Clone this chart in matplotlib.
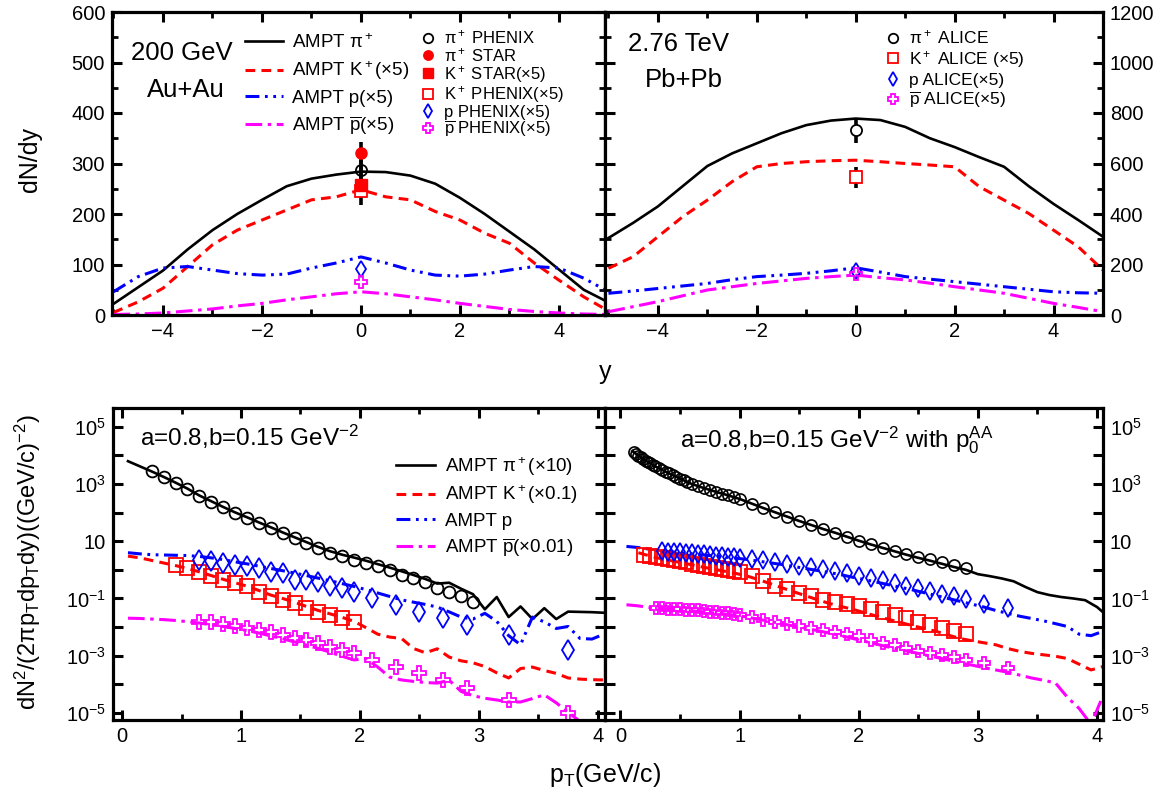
import numpy as np
import matplotlib
matplotlib.use("Agg")
import matplotlib.pyplot as plt
from matplotlib.ticker import MultipleLocator, FixedLocator, FixedFormatter, NullLocator

plt.rcParams["font.family"] = ["Liberation Sans", "DejaVu Sans"]
plt.rcParams["mathtext.fontset"] = "custom"
plt.rcParams["mathtext.rm"] = "Liberation Sans"
plt.rcParams["mathtext.it"] = "Liberation Sans:italic"
plt.rcParams["mathtext.bf"] = "Liberation Sans:bold"
plt.rcParams["lines.scale_dashes"] = False

# ---------------- top row: dN/dy vs y ----------------
y_grid = [-5.0, -4.5, -4.0, -3.5, -3.0, -2.5, -2.0, -1.5, -1.0, -0.5, 0.0,
          0.5, 1.0, 1.5, 2.0, 2.5, 3.0, 3.5, 4.0, 4.5, 5.0]

# Au+Au 200 GeV, AMPT
au_pi = [22, 55, 88, 130, 168, 200, 228, 255, 270, 278, 284, 283, 276, 260, 232, 200, 165, 130, 90, 50, 25]
au_k = [5, 26, 53, 96, 139, 168, 188, 208, 228, 234, 248, 234, 228, 205, 188, 162, 142, 103, 69, 36, 8]
au_p = [46, 76, 93, 96, 89, 82, 79, 81, 93, 103, 115, 103, 89, 79, 77, 81, 89, 96, 93, 73, 46]
au_pbar = [1, 2, 4, 8, 12, 18, 23, 30, 36, 42, 46, 42, 36, 30, 23, 17, 11, 7, 4, 2, 1]

# Au+Au data at y=0 (value, error)
pi_phenix = (287, 20)
pi_star = (321, 22)
k_star = (257, 40)
k_phenix = 245
p_phenix = 92
pbar_phenix = 66

# Pb+Pb 2.76 TeV, AMPT (right axis scale)
pb_pi = [305, 365, 430, 510, 590, 640, 680, 720, 752, 770, 778, 772, 745, 700, 665, 625, 587, 510, 440, 376, 310]
pb_k = [185, 231, 310, 389, 455, 528, 587, 600, 607, 611, 613, 607, 600, 594, 587, 508, 455, 402, 336, 270, 178]
pb_p = [86, 95, 105, 115, 125, 140, 152, 158, 165, 175, 187, 170, 152, 142, 132, 122, 112, 102, 92, 88, 86]
pb_pbar = [13, 33, 53, 76, 99, 112, 125, 135, 145, 152, 158, 148, 139, 126, 112, 99, 86, 66, 46, 30, 13]

pi_alice = (732, 50)
k_alice = (545, 43)
p_alice = 175
pbar_alice = 162

# ---------------- bottom row: pT spectra (log10 values) ----------------
pt_grid = [0.05, 0.15, 0.25, 0.35, 0.45, 0.55, 0.65, 0.75, 0.85, 0.95, 1.05,
           1.15, 1.25, 1.35, 1.45, 1.55, 1.65, 1.75, 1.85, 1.95, 2.05, 2.15,
           2.25, 2.35, 2.45, 2.55, 2.65, 2.75, 2.85, 2.95, 3.05, 3.15, 3.25,
           3.35, 3.45, 3.55, 3.65, 3.75, 3.85, 3.95, 4.05]

# Au+Au AMPT
spec_pi_au = [3.80, 3.62, 3.44, 3.25, 3.05, 2.84, 2.60, 2.40, 2.20, 2.01, 1.84, 1.66, 1.49, 1.31,
              1.14, 0.97, 0.80, 0.65, 0.53, 0.43, 0.32, 0.20, 0.08, -0.05, -0.18, -0.32, -0.48,
              -0.45, -0.66, -0.85, -1.38, -0.95, -1.65, -1.28, -1.72, -1.34, -1.72, -1.46, -1.47,
              -1.48, -1.50]
spec_k_au = [0.48, 0.42, 0.33, 0.24, 0.15, 0.05, -0.07, -0.20, -0.33, -0.45, -0.57, -0.72, -0.88,
             -1.00, -1.13, -1.28, -1.42, -1.54, -1.66, -1.80, -2.02, -2.25, -2.35, -2.40, -2.75,
             -2.90, -2.76, -3.05, -3.18, -3.25, -3.38, -3.60, -3.78, -3.45, -3.40, -3.52, -3.62,
             -3.78, -3.82, -3.84, -3.85]
spec_p_au = [0.60, 0.56, 0.53, 0.52, 0.51, 0.50, 0.47, 0.42, 0.36, 0.28, 0.21, 0.13, 0.05, -0.03,
             -0.11, -0.20, -0.29, -0.38, -0.48, -0.58, -0.69, -0.81, -0.93, -1.05, -1.13, -1.21,
             -1.30, -1.47, -1.65, -1.72, -1.52, -1.80, -2.30, -2.62, -1.65, -1.82, -2.05, -1.98,
             -2.40, -2.42, -2.25]
spec_pbar_au = [-1.69, -1.70, -1.72, -1.74, -1.77, -1.81, -1.86, -1.92, -1.98, -2.05, -2.12, -2.21,
                -2.31, -2.41, -2.52, -2.63, -2.75, -2.88, -3.02, -3.15, -3.10, -3.40, -3.75, -3.85,
                -3.90, -3.94, -3.96, -3.86, -4.25, -4.40, -4.49, -4.55, -4.62, -4.62, -4.50, -4.37,
                -4.65, -4.98, -5.30, -5.60, -5.80]

# Au+Au PHENIX data
pt_pi_phx = [0.25, 0.35, 0.45, 0.55, 0.65, 0.75, 0.85, 0.95, 1.05, 1.15, 1.25, 1.35, 1.45, 1.55,
             1.65, 1.75, 1.85, 1.95, 2.05, 2.15, 2.25, 2.35, 2.45, 2.55, 2.65, 2.75, 2.85, 2.95]
dat_pi_phx = [3.44, 3.24, 3.03, 2.82, 2.59, 2.39, 2.19, 1.98, 1.81, 1.63, 1.46, 1.28, 1.11, 0.93,
              0.76, 0.58, 0.47, 0.35, 0.23, 0.12, 0.00, -0.17, -0.29, -0.44, -0.64, -0.76, -0.93, -1.11]
pt_k_phx = [0.45, 0.55, 0.65, 0.75, 0.85, 0.95, 1.05, 1.15, 1.25, 1.35, 1.45, 1.55, 1.65, 1.75, 1.85, 1.95]
dat_k_phx = [0.17, 0.06, -0.06, -0.23, -0.35, -0.47, -0.58, -0.76, -0.93, -1.05, -1.17, -1.34,
             -1.46, -1.57, -1.69, -1.81]
pt_p_phx = [0.65, 0.75, 0.85, 0.95, 1.05, 1.15, 1.25, 1.35, 1.45, 1.55, 1.65, 1.75, 1.85, 1.95,
            2.1, 2.3, 2.5, 2.7, 2.9, 3.25, 3.75]
dat_p_phx = [0.35, 0.31, 0.23, 0.17, 0.12, 0.06, -0.06, -0.12, -0.35, -0.35, -0.44, -0.58, -0.64,
             -0.79, -0.99, -1.22, -1.46, -1.69, -1.92, -2.27, -2.79]
dat_pbar_phx = [-1.81, -1.84, -1.89, -1.98, -2.04, -2.10, -2.16, -2.27, -2.39, -2.45, -2.56, -2.68,
                -2.80, -2.91, -3.15, -3.38, -3.61, -3.85, -4.14, -4.55, -5.01]

# Pb+Pb AMPT
pt_pi_r = [0.1, 0.2, 0.3, 0.4, 0.5, 0.6, 0.7, 0.8, 0.9, 1.0, 1.1, 1.2, 1.3, 1.4, 1.5, 1.6, 1.7,
           1.8, 1.9, 2.0, 2.1, 2.2, 2.3, 2.4, 2.5, 2.6, 2.7, 2.8, 2.9, 3.0, 3.1, 3.2, 3.3, 3.4,
           3.5, 3.6, 3.7, 3.8, 3.9, 4.0, 4.05]
spec_pi_pb = [4.15, 3.85, 3.60, 3.39, 3.19, 3.00, 2.86, 2.73, 2.61, 2.48, 2.32, 2.16, 2.01, 1.86,
              1.71, 1.57, 1.43, 1.30, 1.16, 1.02, 0.89, 0.77, 0.65, 0.53, 0.42, 0.32, 0.21, 0.10,
              0.00, -0.15, -0.22, -0.30, -0.40, -0.60, -0.78, -0.88, -0.95, -1.00, -1.06, -1.30, -1.48]
spec_k_pb = [0.60, 0.48, 0.38, 0.30, 0.22, 0.13, 0.05, -0.03, -0.11, -0.20, -0.33, -0.47, -0.62,
             -0.76, -0.90, -1.04, -1.17, -1.28, -1.38, -1.50, -1.62, -1.73, -1.84, -1.95, -2.05,
             -2.15, -2.28, -2.40, -2.48, -2.55, -2.62, -2.75, -2.85, -2.92, -2.97, -3.02, -3.10,
             -3.30, -3.50, -3.38]
spec_p_pb = [0.82, 0.78, 0.72, 0.66, 0.62, 0.58, 0.54, 0.50, 0.46, 0.42, 0.37, 0.31, 0.25, 0.19,
             0.12, 0.05, -0.02, -0.09, -0.17, -0.26, -0.34, -0.43, -0.52, -0.61, -0.70, -0.80,
             -0.90, -1.00, -1.10, -1.20, -1.30, -1.42, -1.52, -1.62, -1.70, -1.78, -1.88, -1.98,
             -2.25, -2.30, -2.15]
spec_pbar_pb = [-1.22, -1.26, -1.32, -1.36, -1.39, -1.42, -1.45, -1.49, -1.53, -1.58, -1.64, -1.72,
                -1.80, -1.88, -1.96, -2.04, -2.12, -2.21, -2.30, -2.40, -2.50, -2.60, -2.70, -2.79,
                -2.88, -2.97, -3.06, -3.15, -3.25, -3.33, -3.42, -3.50, -3.58, -3.68, -3.78, -3.86,
                -3.95, -4.45, -4.85, -5.40, -4.40]

# Pb+Pb ALICE data
pt_pi_alice = [0.11, 0.13, 0.15, 0.17, 0.19, 0.21, 0.23, 0.25, 0.27, 0.29, 0.32, 0.35, 0.38, 0.41,
               0.44, 0.47, 0.50, 0.53, 0.56, 0.60, 0.65, 0.70, 0.75, 0.80, 0.85, 0.90, 0.95, 1.00,
               1.1, 1.2, 1.3, 1.4, 1.5, 1.6, 1.7, 1.8, 1.9, 2.0, 2.1, 2.2, 2.3, 2.4, 2.5, 2.6,
               2.7, 2.8, 2.9]
dat_pi_alice = [4.12, 4.05, 3.99, 3.93, 3.87, 3.82, 3.77, 3.72, 3.67, 3.62, 3.56, 3.49, 3.43, 3.37,
                3.31, 3.25, 3.19, 3.13, 3.06, 3.00, 2.93, 2.86, 2.80, 2.73, 2.67, 2.61, 2.55, 2.48,
                2.32, 2.16, 2.01, 1.86, 1.71, 1.57, 1.43, 1.30, 1.16, 1.02, 0.90, 0.78, 0.67, 0.56,
                0.46, 0.37, 0.27, 0.17, 0.07]
pt_k_alice = [0.20, 0.25, 0.30, 0.35, 0.40, 0.45, 0.50, 0.55, 0.60, 0.65, 0.70, 0.75, 0.80, 0.85,
              0.90, 0.95, 1.00, 1.1, 1.2, 1.3, 1.4, 1.5, 1.6, 1.7, 1.8, 1.9, 2.0, 2.1, 2.2, 2.3,
              2.4, 2.5, 2.6, 2.7, 2.8, 2.9]
dat_k_alice = [0.52, 0.48, 0.45, 0.41, 0.37, 0.34, 0.30, 0.26, 0.22, 0.18, 0.14, 0.10, 0.07, 0.03,
               -0.01, -0.04, -0.08, -0.22, -0.38, -0.55, -0.68, -0.82, -0.93, -1.04, -1.14, -1.18,
               -1.27, -1.38, -1.47, -1.58, -1.70, -1.82, -1.93, -2.04, -2.15, -2.25]
pt_p_alice = [0.35, 0.40, 0.45, 0.50, 0.55, 0.60, 0.65, 0.70, 0.75, 0.80, 0.85, 0.90, 0.95, 1.00,
              1.1, 1.2, 1.3, 1.4, 1.5, 1.6, 1.7, 1.8, 1.9, 2.0, 2.1, 2.2, 2.3, 2.4, 2.5, 2.6,
              2.7, 2.8, 2.9, 3.05, 3.25]
dat_p_alice = [0.66, 0.64, 0.63, 0.61, 0.60, 0.58, 0.56, 0.54, 0.52, 0.50, 0.48, 0.46, 0.44, 0.42,
               0.37, 0.33, 0.27, 0.21, 0.15, 0.09, 0.03, -0.04, -0.12, -0.20, -0.28, -0.37, -0.46,
               -0.55, -0.65, -0.74, -0.83, -0.92, -1.01, -1.20, -1.35]
pt_pbar_alice = [0.30, 0.35, 0.40, 0.45, 0.50, 0.55, 0.60, 0.65, 0.70, 0.75, 0.80, 0.85, 0.90, 0.95,
                 1.00, 1.1, 1.2, 1.3, 1.4, 1.5, 1.6, 1.7, 1.8, 1.9, 2.0, 2.1, 2.2, 2.3, 2.4, 2.5,
                 2.6, 2.7, 2.8, 2.9, 3.05, 3.25]
dat_pbar_alice = [-1.34, -1.35, -1.36, -1.37, -1.38, -1.39, -1.41, -1.42, -1.44, -1.46, -1.48, -1.50,
                  -1.52, -1.55, -1.58, -1.65, -1.74, -1.82, -1.89, -1.96, -2.02, -2.09, -2.16, -2.25,
                  -2.33, -2.45, -2.55, -2.64, -2.73, -2.82, -2.90, -2.98, -3.06, -3.14, -3.27, -3.43]

# ---------------- styles ----------------
RED = "#ff0000"
BLUE = "#0000ff"
MAG = "#ff00ff"
ls_k = (0, (7, 4.5))
ls_p = (0, (10, 4, 2, 4, 2, 4))
ls_pbar = (0, (12, 4, 2.5, 4))
LW = 2.2
LW_PI = 1.9

TICK_FS = 14.5
LAB_FS = 18


def style_axis(ax):
    for s in ax.spines.values():
        s.set_linewidth(2.3)
    ax.tick_params(which="both", direction="in", top=True, right=True,
                   labelsize=TICK_FS, pad=5)
    ax.tick_params(which="major", length=7, width=2.2)
    ax.tick_params(which="minor", length=4, width=2.0)


def ten(vals):
    return 10.0 ** np.asarray(vals)


fig = plt.figure(figsize=(11.71, 8.01), dpi=100)
W, H = 1171.0, 801.0
ax1 = fig.add_axes([112 / W, 1 - 315 / H, 493 / W, 303 / H])
ax2 = fig.add_axes([605 / W, 1 - 315 / H, 498 / W, 303 / H])
ax3 = fig.add_axes([113 / W, 1 - 720 / H, 492 / W, 312 / H])
ax4 = fig.add_axes([605 / W, 1 - 720 / H, 498 / W, 312 / H])

# ---- top left: Au+Au ----
l1, = ax1.plot(y_grid, au_pi, color="black", lw=LW_PI, label="AMPT π$^+$")
l2, = ax1.plot(y_grid, au_k, color=RED, lw=LW, ls=ls_k, label="AMPT K$^+$(×5)")
l3, = ax1.plot(y_grid, au_p, color=BLUE, lw=LW, ls=ls_p, label="AMPT p(×5)")
l4, = ax1.plot(y_grid, au_pbar, color=MAG, lw=LW, ls=ls_pbar,
               label="AMPT $\\overline{\\mathrm{p}}$(×5)")

for val, err in (pi_phenix, pi_star, k_star):
    ax1.errorbar([0], [val], yerr=[err], fmt="none", ecolor="black", elinewidth=2.6, capsize=0)
m4, = ax1.plot([0], [k_phenix], ls="none", marker="s", ms=9, mfc="white", mec=RED, mew=1.3,
               label="K$^+$ PHENIX(×5)")
m1, = ax1.plot([0], [pi_phenix[0]], ls="none", marker="o", ms=8, mfc="none", mec="black", mew=1.3,
               label="π$^+$ PHENIX")
m2, = ax1.plot([0], [pi_star[0]], ls="none", marker="o", ms=8, color=RED, label="π$^+$ STAR")
m3, = ax1.plot([0], [k_star[0]], ls="none", marker="s", ms=8.5, color=RED, label="K$^+$ STAR(×5)")
m5, = ax1.plot([0], [p_phenix], ls="none", marker="d", ms=8, mfc="none", mec=BLUE, mew=1.3,
               label="p PHENIX(×5)")
m6, = ax1.plot([0], [pbar_phenix], ls="none", marker="P", ms=9, mfc="none", mec=MAG, mew=1.3,
               label="$\\overline{\\mathrm{p}}$ PHENIX(×5)")

ax1.set_xlim(-5.03, 4.93)
ax1.set_ylim(0, 600)
ax1.xaxis.set_major_locator(MultipleLocator(2))
ax1.xaxis.set_minor_locator(MultipleLocator(1))
ax1.yaxis.set_major_locator(MultipleLocator(100))
ax1.yaxis.set_minor_locator(MultipleLocator(50))
style_axis(ax1)
ax1.tick_params(labelright=False)

leg1 = ax1.legend(handles=[l1, l2, l3, l4], loc="upper left", bbox_to_anchor=(0.27, 0.93),
                  frameon=False, fontsize=13.5, handlelength=2.0, handletextpad=0.5,
                  labelspacing=0.40, borderpad=0, borderaxespad=0)
ax1.add_artist(leg1)
ax1.legend(handles=[m1, m2, m3, m4, m5, m6], loc="upper left", bbox_to_anchor=(0.625, 0.945),
           frameon=False, fontsize=12, handlelength=1.0, handletextpad=0.45,
           labelspacing=-0.03, borderpad=0, borderaxespad=0, markerscale=0.85)
ax1.text(0.142, 0.866, "200 GeV", transform=ax1.transAxes, fontsize=18.5, ha="center", va="center")
ax1.text(0.150, 0.741, "Au+Au", transform=ax1.transAxes, fontsize=18.5, ha="center", va="center")

# ---- top right: Pb+Pb ----
ax2.plot(y_grid, pb_pi, color="black", lw=LW_PI)
ax2.plot(y_grid, pb_k, color=RED, lw=LW, ls=ls_k)
ax2.plot(y_grid, pb_p, color=BLUE, lw=LW, ls=ls_p)
ax2.plot(y_grid, pb_pbar, color=MAG, lw=LW, ls=ls_pbar)
for val, err in (pi_alice, k_alice):
    ax2.errorbar([0], [val], yerr=[err], fmt="none", ecolor="black", elinewidth=2.6, capsize=0)
n1, = ax2.plot([0], [pi_alice[0]], ls="none", marker="o", ms=8, mfc="white", mec="black", mew=1.3,
               label="π$^+$ ALICE")
n2, = ax2.plot([0], [k_alice[0]], ls="none", marker="s", ms=9, mfc="white", mec=RED, mew=1.3,
               label="K$^+$ ALICE (×5)")
n3, = ax2.plot([0], [p_alice], ls="none", marker="d", ms=8, mfc="none", mec=BLUE, mew=1.3,
               label="p ALICE(×5)")
n4, = ax2.plot([0], [pbar_alice], ls="none", marker="P", ms=9, mfc="none", mec=MAG, mew=1.3,
               label="$\\overline{\\mathrm{p}}$ ALICE(×5)")
ax2.set_xlim(-5.07, 5.0)
ax2.set_ylim(0, 1200)
ax2.xaxis.set_major_locator(MultipleLocator(2))
ax2.xaxis.set_minor_locator(MultipleLocator(1))
ax2.yaxis.set_major_locator(MultipleLocator(200))
ax2.yaxis.set_minor_locator(MultipleLocator(100))
style_axis(ax2)
ax2.tick_params(labelleft=False, labelright=True)
ax2.legend(handles=[n1, n2, n3, n4], loc="upper left", bbox_to_anchor=(0.56, 0.945),
           frameon=False, fontsize=12.5, handlelength=1.0, handletextpad=0.45,
           labelspacing=0.14, borderpad=0, borderaxespad=0, markerscale=0.85)
ax2.text(0.046, 0.895, "2.76 TeV", transform=ax2.transAxes, fontsize=18.5, ha="left", va="center")
ax2.text(0.080, 0.777, "Pb+Pb", transform=ax2.transAxes, fontsize=18.5, ha="left", va="center")

# ---- bottom left: Au+Au spectra ----
b1, = ax3.plot(pt_grid, ten(spec_pi_au), color="black", lw=LW_PI, label="AMPT π$^+$(×10)")
b2, = ax3.plot(pt_grid, ten(spec_k_au), color=RED, lw=LW, ls=ls_k, label="AMPT K$^+$(×0.1)")
b3, = ax3.plot(pt_grid, ten(spec_p_au), color=BLUE, lw=LW, ls=ls_p, label="AMPT p")
b4, = ax3.plot(pt_grid, ten(spec_pbar_au), color=MAG, lw=LW, ls=ls_pbar,
               label="AMPT $\\overline{\\mathrm{p}}$(×0.01)")
ax3.plot(pt_pi_phx, ten(dat_pi_phx), ls="none", marker="o", ms=8.5, mfc="none", mec="black", mew=1.3)
ax3.plot(pt_k_phx, ten(dat_k_phx), ls="none", marker="s", ms=9.5, mfc="none", mec=RED, mew=1.3)
ax3.plot(pt_p_phx, ten(dat_p_phx), ls="none", marker="d", ms=10, mfc="none", mec=BLUE, mew=1.3)
ax3.plot(pt_p_phx, ten(dat_pbar_phx), ls="none", marker="P", ms=9.5, mfc="none", mec=MAG, mew=1.3)

# ---- bottom right: Pb+Pb spectra ----
ax4.plot(pt_pi_r, ten(spec_pi_pb), color="black", lw=LW_PI)
ax4.plot(pt_grid[1:], ten(spec_k_pb), color=RED, lw=LW, ls=ls_k)
ax4.plot(pt_grid, ten(spec_p_pb), color=BLUE, lw=LW, ls=ls_p)
ax4.plot(pt_grid, ten(spec_pbar_pb), color=MAG, lw=LW, ls=ls_pbar)
ax4.plot(pt_pi_alice, ten(dat_pi_alice), ls="none", marker="o", ms=8, mfc="none", mec="black", mew=1.2)
ax4.plot(pt_k_alice, ten(dat_k_alice), ls="none", marker="s", ms=9.5, mfc="none", mec=RED, mew=1.3)
ax4.plot(pt_p_alice, ten(dat_p_alice), ls="none", marker="d", ms=9, mfc="none", mec=BLUE, mew=1.3)
ax4.plot(pt_pbar_alice, ten(dat_pbar_alice), ls="none", marker="P", ms=9, mfc="none", mec=MAG, mew=1.3)

log_ticks = [10.0 ** e for e in range(-5, 6)]
log_labels = ["$10^{-5}$", "", "$10^{-3}$", "", "$10^{-1}$", "", "10", "", "$10^{3}$", "", "$10^{5}$"]
for ax in (ax3, ax4):
    ax.set_yscale("log")
    ax.set_ylim(10 ** -5.25, 10 ** 5.66)
    ax.yaxis.set_major_locator(FixedLocator(log_ticks))
    ax.yaxis.set_major_formatter(FixedFormatter(log_labels))
    ax.yaxis.set_minor_locator(NullLocator())
    ax.xaxis.set_major_locator(MultipleLocator(1))
    ax.xaxis.set_minor_locator(MultipleLocator(0.5))
    style_axis(ax)
ax3.set_xlim(-0.076, 4.06)
ax4.set_xlim(-0.13, 4.05)
ax3.tick_params(labelright=False)
ax4.tick_params(labelleft=False, labelright=True)

ax3.legend(handles=[b1, b2, b3, b4], loc="upper left", bbox_to_anchor=(0.575, 0.85),
           frameon=False, fontsize=13.5, handlelength=2.1, handletextpad=0.5,
           labelspacing=0.33, borderpad=0, borderaxespad=0)
ax3.text(0.055, 0.907, "a=0.8,b=0.15 GeV$^{-2}$", transform=ax3.transAxes, fontsize=17.5,
         ha="left", va="center")
ax4.text(0.15, 0.897, "a=0.8,b=0.15 GeV$^{-2}$ with p$_0^{\\mathrm{AA}}$", transform=ax4.transAxes,
         fontsize=17.5, ha="left", va="center")

# ---- axis titles ----
fig.text(30 / W, 1 - 160 / H, "dN/dy", rotation=90, fontsize=LAB_FS, ha="center", va="center")
fig.text(605 / W, 1 - 372 / H, "y", fontsize=LAB_FS, ha="center", va="center")
fig.text(28 / W, 1 - 562 / H, "dN$^2$/(2πp$_\\mathrm{T}$dp$_\\mathrm{T}$dy)((GeV/c)$^{-2}$)",
         rotation=90, fontsize=17, ha="center", va="center")
fig.text(605 / W, 1 - 775 / H, "p$_\\mathrm{T}$(GeV/c)", fontsize=LAB_FS, ha="center", va="center")

fig.savefig("out.png", dpi=100)
